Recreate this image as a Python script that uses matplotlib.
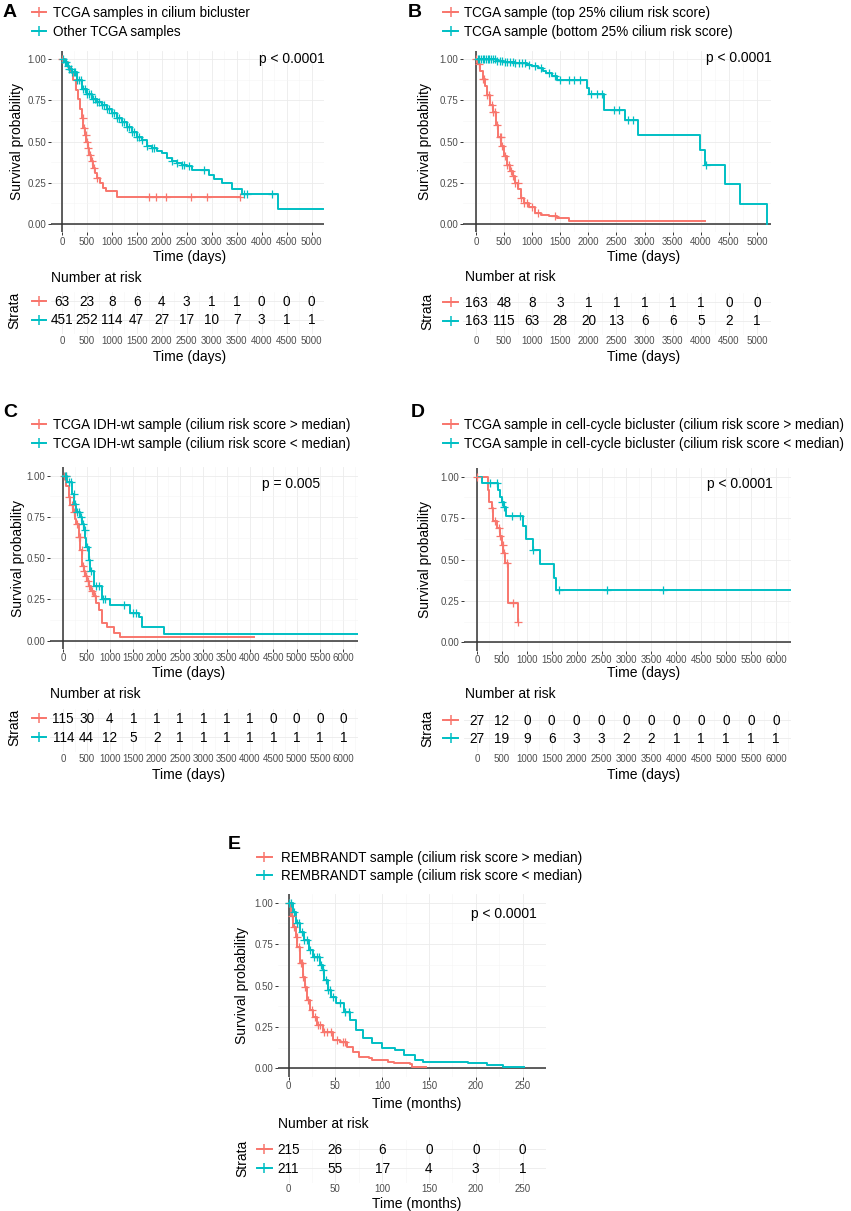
import numpy as np
import matplotlib
matplotlib.use('Agg')
import matplotlib.pyplot as plt
from matplotlib.lines import Line2D
from matplotlib import transforms

plt.rcParams['font.family'] = ['Liberation Sans', 'DejaVu Sans']

W, H = 851, 1211
RED = '#F8766D'
TEAL = '#00BFC4'

# ---------------- data ----------------
# A: cilium bicluster vs other
a_red_t = [0, 60, 120, 180, 230, 280, 330, 370, 400, 430, 460, 490, 520, 550, 580, 620, 660, 700, 760, 820, 880, 1100, 3560]
a_red_s = [1.0, 0.98, 0.95, 0.92, 0.87, 0.81, 0.76, 0.70, 0.64, 0.58, 0.54, 0.50, 0.46, 0.42, 0.38, 0.34, 0.31, 0.28, 0.25, 0.22, 0.20, 0.165, 0.165]
a_red_cens = [5, 420, 450, 480, 500, 520, 560, 600, 650, 700, 1750, 1880, 2080, 2580, 2900, 3560]
a_teal_t = [0, 50, 100, 150, 200, 300, 400, 500, 600, 700, 800, 900, 1000, 1100, 1200, 1300, 1400, 1500, 1600, 1700, 1800, 1900, 2000, 2100, 2200, 2300, 2400, 2500, 2600, 2950, 3050, 3200, 3400, 3600, 4330, 5230]
a_teal_s = [1.0, 0.98, 0.96, 0.94, 0.92, 0.87, 0.82, 0.79, 0.76, 0.74, 0.72, 0.70, 0.67, 0.64, 0.62, 0.59, 0.56, 0.53, 0.51, 0.47, 0.46, 0.44, 0.43, 0.40, 0.38, 0.37, 0.36, 0.35, 0.33, 0.30, 0.27, 0.25, 0.21, 0.18, 0.09, 0.09]
a_teal_cens = [30, 60, 90, 120, 150, 180, 210, 240, 270, 300, 340, 380, 420, 460, 500, 540, 580, 620, 660, 700, 750, 800,
               850, 900, 950, 1000, 1050, 1100, 1150, 1200, 1250, 1300, 1350, 1400, 1450, 1500, 1550, 1600, 1700, 1800,
               1850, 2200, 2300, 2400, 2450, 2550, 2850, 3650, 3700, 4200]
a_risk_red = [63, 23, 8, 6, 4, 3, 1, 1, 0, 0, 0]
a_risk_teal = [451, 252, 114, 47, 27, 17, 10, 7, 3, 1, 1]

# B: top 25% vs bottom 25%
b_red_t = [0, 40, 80, 120, 160, 200, 250, 300, 350, 400, 450, 500, 550, 600, 650, 700, 750, 800, 850, 950, 1050, 1150, 1300, 1450, 1650, 4075]
b_red_s = [1.0, 0.97, 0.93, 0.88, 0.835, 0.78, 0.72, 0.68, 0.60, 0.53, 0.47, 0.41, 0.36, 0.32, 0.29, 0.25, 0.21, 0.16, 0.13, 0.105, 0.067, 0.057, 0.047, 0.037, 0.016, 0.016]
b_red_cens = [5, 60, 120, 150, 200, 240, 280, 310, 340, 380, 420, 440, 470, 520, 560, 590, 620, 660, 700, 740, 800, 850, 900, 1000, 1100, 1400]
b_teal_t = [0, 350, 500, 700, 900, 1000, 1100, 1200, 1250, 1350, 1450, 1980, 2010, 2280, 2650, 2890, 3990, 4075, 4430, 4700, 5170]
b_teal_s = [1.0, 0.99, 0.98, 0.975, 0.965, 0.955, 0.945, 0.93, 0.915, 0.895, 0.87, 0.825, 0.785, 0.69, 0.63, 0.54, 0.45, 0.36, 0.24, 0.12, 0.0]
b_teal_cens = [30, 60, 90, 120, 150, 180, 210, 240, 270, 300, 330, 380, 420, 460, 520, 560, 600, 650, 700, 760, 820, 880,
               940, 1050, 1150, 1300, 1400, 1500, 1650, 1750, 1850, 2050, 2150, 2250, 2450, 2550, 2700, 2800, 4100]
b_risk_red = [163, 48, 8, 3, 1, 1, 1, 1, 1, 0, 0]
b_risk_teal = [163, 115, 63, 28, 20, 13, 6, 6, 5, 2, 1]

# C: IDH-wt above / below median
c_red_t = [0, 60, 114, 150, 207, 250, 278, 328, 364, 400, 440, 471, 510, 542, 600, 649, 700, 756, 828, 935, 1078, 1220, 4090]
c_red_s = [1.0, 0.94, 0.87, 0.82, 0.78, 0.74, 0.71, 0.63, 0.55, 0.45, 0.42, 0.39, 0.36, 0.33, 0.30, 0.27, 0.23, 0.185, 0.105, 0.085, 0.044, 0.022, 0.022]
c_red_cens = [20, 50, 130, 180, 230, 300, 340, 360, 390, 420, 450, 480, 520, 560, 620, 680]
c_teal_t = [0, 80, 186, 230, 278, 364, 400, 435, 470, 492, 542, 578, 649, 828, 1006, 1435, 1613, 1684, 2148, 6320]
c_teal_s = [1.0, 0.96, 0.89, 0.83, 0.78, 0.75, 0.71, 0.67, 0.62, 0.57, 0.49, 0.42, 0.33, 0.255, 0.215, 0.165, 0.145, 0.085, 0.04, 0.04]
c_teal_cens = [30, 60, 120, 170, 220, 260, 300, 340, 380, 420, 460, 500, 560, 600, 700, 760, 840, 900, 1300, 1500, 1550]
c_risk_red = [115, 30, 4, 1, 1, 1, 1, 1, 1, 0, 0, 0, 0]
c_risk_teal = [114, 44, 12, 5, 2, 1, 1, 1, 1, 1, 1, 1, 1]

# D: cell-cycle bicluster above / below median
d_red_t = [0, 215, 241, 295, 330, 395, 462, 495, 530, 565, 616, 629, 816, 830]
d_red_s = [1.0, 0.92, 0.85, 0.81, 0.73, 0.69, 0.64, 0.59, 0.54, 0.48, 0.31, 0.235, 0.12, 0.12]
d_red_cens = [5, 300, 360, 440, 470, 520, 545, 600, 730, 830]
d_teal_t = [0, 94, 415, 470, 508, 540, 575, 914, 988, 1115, 1256, 1537, 1590, 6300]
d_teal_s = [1.0, 0.96, 0.92, 0.88, 0.85, 0.82, 0.76, 0.70, 0.625, 0.555, 0.475, 0.39, 0.315, 0.315]
d_teal_cens = [261, 395, 508, 542, 709, 863, 1120, 1637, 2610, 3735]
d_risk_red = [27, 12, 0, 0, 0, 0, 0, 0, 0, 0, 0, 0, 0]
d_risk_teal = [27, 19, 9, 6, 3, 3, 2, 2, 1, 1, 1, 1, 1]

# E: REMBRANDT (months)
e_red_t = [0, 2.7, 5, 7.8, 9.5, 12, 15.3, 18, 19.7, 23, 26.5, 30, 36.7, 47, 55.4, 62, 69, 75.8, 86, 89, 106, 113, 130, 132, 147]
e_red_s = [1.0, 0.92, 0.855, 0.795, 0.735, 0.634, 0.553, 0.493, 0.41, 0.35, 0.31, 0.26, 0.22, 0.17, 0.16, 0.13, 0.10, 0.07, 0.06, 0.05, 0.04, 0.03, 0.026, 0.01, 0.01]
e_red_cens = [1, 4, 6, 9, 11, 13, 14, 16, 18, 21, 25, 28, 31, 34, 38, 41, 45, 52, 58, 60]
e_teal_t = [0, 4.4, 8.5, 12, 16.3, 21.4, 26.5, 33.3, 36.7, 38.4, 41.8, 45.2, 50.3, 58.8, 65.6, 72.4, 79.3, 89.5, 99.7, 113.3, 123.5, 135.4, 144, 191.5, 212, 229, 251]
e_teal_s = [1.0, 0.945, 0.875, 0.825, 0.775, 0.714, 0.674, 0.624, 0.594, 0.533, 0.473, 0.433, 0.392, 0.342, 0.292, 0.231, 0.181, 0.151, 0.121, 0.111, 0.08, 0.05, 0.036, 0.03, 0.02, 0.01, 0.006]
e_teal_cens = [1, 3, 6, 9, 11, 14, 17, 20, 23, 27, 30, 33, 35, 37, 40, 42, 44, 47, 55, 60, 65]
e_risk_red = [215, 26, 6, 0, 0, 0]
e_risk_teal = [211, 55, 17, 4, 3, 1]

ticks_5000 = list(range(0, 5001, 500))
ticks_6000 = list(range(0, 6001, 500))
ticks_250 = list(range(0, 251, 50))

# ---------------- layout (pixels) ----------------
fig = plt.figure(figsize=(W / 100, H / 100), dpi=100)


def fx(x):
    return x / W


def fy(y):
    return 1 - y / H


def add_box(left, right, top, bottom):
    return fig.add_axes([fx(left), fy(bottom), (right - left) / W, (bottom - top) / H])


def key(x0, x1, y, color):
    fig.add_artist(Line2D([fx(x0), fx(x1)], [fy(y), fy(y)], transform=fig.transFigure,
                          color=color, lw=1.4))
    fig.add_artist(Line2D([fx((x0 + x1) / 2)], [fy(y)], transform=fig.transFigure,
                          color=color, marker='+', ms=7, mew=1.1))


def step_at(t, times, surv):
    i = np.searchsorted(times, t, side='right') - 1
    return np.asarray(surv)[np.clip(i, 0, None)]


def ptxt(x, y, s, **kw):
    kw.setdefault('va', 'baseline')
    kw.setdefault('fontsize', 10)
    fig.text(fx(x), fy(y), s, **kw)


def panel(P, curves, xticks, risk, labels, pval):
    top = P['s1'] - 0.05 * (P['s0'] - P['s1'])
    bot = P['s0'] + 0.05 * (P['s0'] - P['s1'])
    ax = add_box(P['left'], P['right'], top, bot)
    xlim = ((P['left'] - P['t0']) / P['scale'], (P['right'] - P['t0']) / P['scale'])
    step = xticks[1] - xticks[0]
    ax.set_xlim(*xlim)
    for s in ax.spines.values():
        s.set_visible(False)
    ax.set_xticks(xticks)
    ax.set_xticks([t + step / 2 for t in xticks[:-1]] + [xticks[-1] + step / 2], minor=True)
    ax.set_ylim(-0.05, 1.05)
    ax.set_yticks([0, 0.25, 0.5, 0.75, 1.0])
    ax.set_yticklabels(['0.00', '0.25', '0.50', '0.75', '1.00'])
    ax.set_yticks([0.125, 0.375, 0.625, 0.875], minor=True)
    ax.grid(which='major', color='#EBEBEB', lw=0.6)
    ax.grid(which='minor', color='#F5F5F5', lw=0.4)
    ax.tick_params(which='major', length=2.2, width=0.7, color='#333333', labelsize=7,
                   labelcolor='#4D4D4D', pad=1)
    ax.tick_params(which='minor', length=0)
    ax.axhline(0, color='#333333', lw=1.1, zorder=2)
    ax.axvline(0, color='#333333', lw=1.1, zorder=2)
    for times, surv, cens, col in curves:
        ax.step(times, surv, where='post', color=col, lw=1.4, zorder=3)
        ax.plot(cens, step_at(cens, times, surv), ls='none', marker='+', ms=5.5, mew=0.9,
                color=col, zorder=4)
    ax.text(pval[0], pval[1], pval[2], fontsize=10, ha=pval[3], va='baseline',
            transform=fig.transFigure)

    # risk table
    T = P['table']
    ttop = T['r_red'] - 9
    tbot = T['tick_y'] - 5
    tx = add_box(P['left'], P['right'], ttop, tbot)
    tx.set_xlim(*xlim)
    for s in tx.spines.values():
        s.set_visible(False)
    tx.set_xticks(xticks)
    tx.set_xticks([t + step / 2 for t in xticks[:-1]] + [xticks[-1] + step / 2], minor=True)
    ppu = T['r_teal'] - T['r_red']
    tx.set_ylim(1 - (tbot - T['r_teal']) / ppu, 2 + (T['r_red'] - ttop) / ppu)
    tx.set_yticks([1, 2])
    tx.set_yticklabels([])
    tx.grid(which='major', color='#EBEBEB', lw=0.6)
    tx.grid(which='minor', axis='x', color='#F5F5F5', lw=0.4)
    tx.tick_params(which='both', length=0, labelsize=7, labelcolor='#4D4D4D', pad=1)
    fs = 9.8
    off = transforms.offset_copy(tx.transData, fig=fig, y=-0.358 * fs, units='points')
    for t, n in zip(xticks, risk[0]):
        tx.text(t, 2, str(n), transform=off, ha='center', va='baseline', fontsize=fs)
    for t, n in zip(xticks, risk[1]):
        tx.text(t, 1, str(n), transform=off, ha='center', va='baseline', fontsize=fs)

    # texts
    L = labels
    ptxt(L['letter'][0], L['letter'][1], L['letter'][2], fontsize=14, fontweight='bold')
    for (txt, col), yy in zip(L['legend'], L['leg_y']):
        key(L['key_x'][0], L['key_x'][1], yy, col)
        ptxt(L['leg_tx'], yy + 5, txt, fontsize=9.75)
    ptxt(L['ylab_x'], (top + bot) / 2, 'Survival probability', rotation=90,
         rotation_mode='anchor', ha='center')
    ptxt(L['xlab'][0], L['xlab'][1], L['xname'], ha='center')
    ptxt(L['nar'][0], L['nar'][1], 'Number at risk')
    key(L['key_x'][0], L['key_x'][1], T['r_red'], RED)
    key(L['key_x'][0], L['key_x'][1], T['r_teal'], TEAL)
    ptxt(L['strata'][0], L['strata'][1], 'Strata', rotation=90, rotation_mode='anchor', ha='center')
    ptxt(L['xlab'][0], T['xlab_y'], L['xname'], ha='center')
    return ax


# ---------------- panels ----------------
panel(dict(left=50.5, right=324, t0=62, scale=0.0502, s1=59, s0=224,
           table=dict(r_red=301.3, r_teal=319.5, tick_y=339.3, xlab_y=360.7)),
      [(a_red_t, a_red_s, a_red_cens, RED), (a_teal_t, a_teal_s, a_teal_cens, TEAL)],
      ticks_5000, (a_risk_red, a_risk_teal),
      dict(letter=(3, 17, 'A'), legend=[('TCGA samples in cilium bicluster', RED), ('Other TCGA samples', TEAL)],
           leg_y=(12.3, 30.6), key_x=(31.5, 46), leg_tx=53, ylab_x=21.5, xlab=(190, 261.5),
           xname='Time (days)', nar=(51, 281.7), strata=(18.3, 310)),
      (fx(325), fy(62.5), 'p < 0.0001', 'right'))

panel(dict(left=463, right=771, t0=476, scale=0.0562, s1=59, s0=224,
           table=dict(r_red=302, r_teal=320.5, tick_y=339.5, xlab_y=360.7)),
      [(b_red_t, b_red_s, b_red_cens, RED), (b_teal_t, b_teal_s, b_teal_cens, TEAL)],
      ticks_5000, (b_risk_red, b_risk_teal),
      dict(letter=(408, 17, 'B'),
           legend=[('TCGA sample (top 25% cilium risk score)', RED), ('TCGA sample (bottom 25% cilium risk score)', TEAL)],
           leg_y=(12.3, 30.6), key_x=(443.3, 458.3), leg_tx=464.3, ylab_x=429, xlab=(644, 261),
           xname='Time (days)', nar=(465, 281), strata=(431, 311)),
      (fx(772), fy(62), 'p < 0.0001', 'right'))

panel(dict(left=50, right=358.3, t0=63.3, scale=0.04667, s1=475.7, s0=640.7,
           table=dict(r_red=718.3, r_teal=737, tick_y=757.3, xlab_y=778.7)),
      [(c_red_t, c_red_s, c_red_cens, RED), (c_teal_t, c_teal_s, c_teal_cens, TEAL)],
      ticks_6000, (c_risk_red, c_risk_teal),
      dict(letter=(3, 417, 'C'),
           legend=[('TCGA IDH-wt sample (cilium risk score > median)', RED),
                   ('TCGA IDH-wt sample (cilium risk score < median)', TEAL)],
           leg_y=(424, 443.3), key_x=(31.7, 46), leg_tx=53.3, ylab_x=21.7, xlab=(189, 676.5),
           xname='Time (days)', nar=(50, 698.3), strata=(18.3, 727)),
      (fx(261.7), fy(488.3), 'p = 0.005', 'left'))

panel(dict(left=464, right=790.7, t0=477, scale=0.04983, s1=476.7, s0=642.3,
           table=dict(r_red=720, r_teal=738.3, tick_y=757.3, xlab_y=778.7)),
      [(d_red_t, d_red_s, d_red_cens, RED), (d_teal_t, d_teal_s, d_teal_cens, TEAL)],
      ticks_6000, (d_risk_red, d_risk_teal),
      dict(letter=(411, 417, 'D'),
           legend=[('TCGA sample in cell-cycle bicluster (cilium risk score > median)', RED),
                   ('TCGA sample in cell-cycle bicluster (cilium risk score < median)', TEAL)],
           leg_y=(424, 443.3), key_x=(443.3, 458.3), leg_tx=464.3, ylab_x=429, xlab=(644, 677),
           xname='Time (days)', nar=(465, 698), strata=(431, 728)),
      (fx(772.3), fy(488.3), 'p < 0.0001', 'right'))

panel(dict(left=278, right=546, t0=289, scale=0.98, s1=902.7, s0=1068.3,
           table=dict(r_red=1149.3, r_teal=1167.7, tick_y=1187.7, xlab_y=1208.3)),
      [(e_red_t, e_red_s, e_red_cens, RED), (e_teal_t, e_teal_s, e_teal_cens, TEAL)],
      ticks_250, (e_risk_red, e_risk_teal),
      dict(letter=(227.5, 849, 'E'),
           legend=[('REMBRANDT sample (cilium risk score > median)', RED),
                   ('REMBRANDT sample (cilium risk score < median)', TEAL)],
           leg_y=(856.7, 875), key_x=(256.7, 271.7), leg_tx=281, ylab_x=245.5, xlab=(416.7, 1108.3),
           xname='Time (months)', nar=(277.7, 1128.3), strata=(246, 1158)),
      (fx(536.7), fy(918.3), 'p < 0.0001', 'right'))

fig.savefig('out.png', dpi=100)
